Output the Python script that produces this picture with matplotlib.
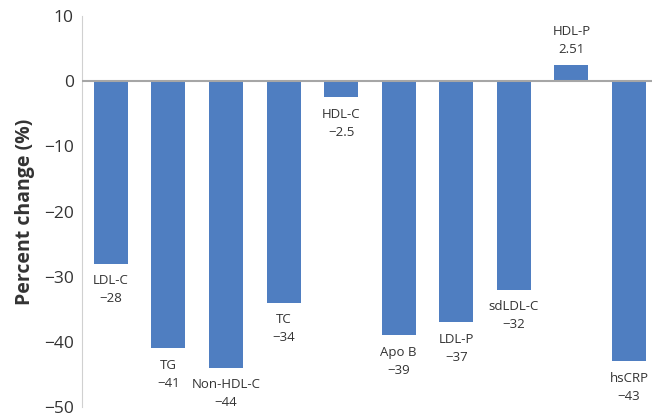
# percent change in lipid markers, bar chart redo
import numpy as np
import matplotlib.pyplot as plt

plt.rcParams['font.family'] = ['Open Sans', 'DejaVu Sans']

markers = ["LDL-C", "TG", "Non-HDL-C", "TC", "HDL-C", "Apo B", "LDL-P", "sdLDL-C", "HDL-P", "hsCRP"]
change = [-28, -41, -44, -34, -2.5, -39, -37, -32, 2.51, -43]
shown = ["\u221228", "\u221241", "\u221244", "\u221234", "\u22122.5", "\u221239", "\u221237", "\u221232", "2.51", "\u221243"]

bar_col = "#4F7EC1"
grey = "#A6A6A6"
txt = "#333333"

fig = plt.figure(figsize=(6.52, 4.18), dpi=100)
ax = fig.add_axes([0.1258, 0.0263, 0.8742, 0.9354])

x = np.arange(len(markers))
ax.bar(x, change, width=0.59, color=bar_col, zorder=2)
ax.axhline(0, color=grey, lw=1.5, zorder=3)

# labels go under the negative bars, over the positive one
for i in range(len(markers)):
    if change[i] < 0:
        ax.text(x[i], change[i] - 1.6, markers[i] + "\n" + shown[i], ha="center", va="top",
                fontsize=9.5, color=txt, linespacing=1.5)
    else:
        ax.text(x[i], change[i] + 1.3, markers[i] + "\n" + shown[i], ha="center", va="bottom",
                fontsize=9.5, color=txt, linespacing=1.5)

ax.set_xlim(-0.5, 9.4)
ax.set_ylim(-50, 10)
ax.set_yticks([10, 0, -10, -20, -30, -40, -50])
ax.set_xticks([])
ax.tick_params(axis="y", length=0, labelsize=12.5, labelcolor=txt, pad=6)
for s in ["top", "right", "bottom"]:
    ax.spines[s].set_visible(False)
ax.spines["left"].set_color("#D0D0D0")
ax.set_ylabel("Percent change (%)", fontsize=14, fontweight="bold", color=txt, labelpad=6)

fig.savefig("out.png", dpi=100)
